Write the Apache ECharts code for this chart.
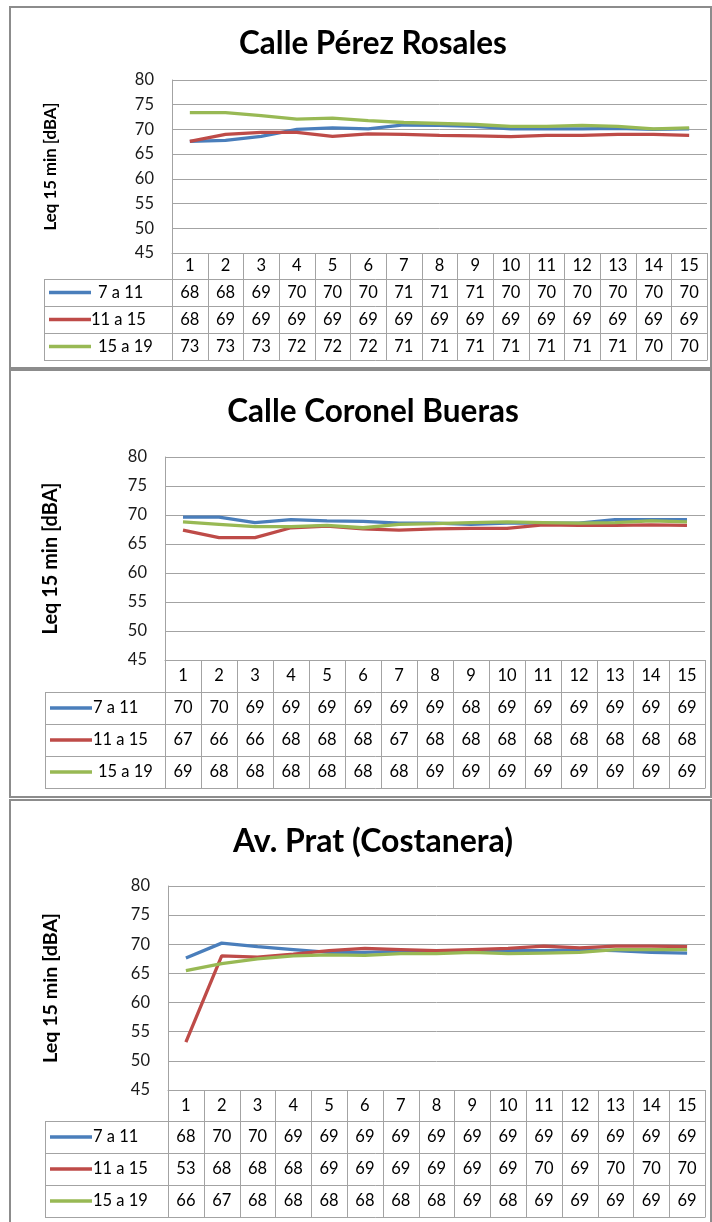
<!DOCTYPE html>
<html><head><meta charset="utf-8">
<script src="https://cdn.jsdelivr.net/npm/echarts@6/dist/echarts.min.js"></script>
<style>html,body{margin:0;padding:0;background:#fff}#c{width:712px;height:1222px}</style>
</head><body><div id="c"></div>
<script>
// ---------- DATA ----------
const categories = ['1','2','3','4','5','6','7','8','9','10','11','12','13','14','15'];
const seriesNames = ['7 a 11','11 a 15','15 a 19'];
const chartTitles = ['Calle Pérez Rosales','Calle Coronel Bueras','Av. Prat (Costanera)'];
const yAxisTitle = 'Leq 15 min [dBA]';
const yMin = 45, yMax = 80, yStep = 5;

const perez_7a11  = [67.6,67.8,68.6,70.0,70.3,70.1,70.9,70.8,70.6,70.1,70.1,70.1,70.2,70.0,70.1];
const perez_11a15 = [67.6,69.0,69.4,69.4,68.6,69.1,69.0,68.8,68.7,68.55,68.8,68.8,69.0,69.0,68.8];
const perez_15a19 = [73.4,73.4,72.8,72.1,72.3,71.8,71.4,71.2,71.0,70.6,70.6,70.8,70.6,70.1,70.3];

const bueras_7a11  = [69.65,69.65,68.7,69.2,69.0,68.9,68.6,68.6,68.4,68.6,68.6,68.6,69.2,69.2,69.2];
const bueras_11a15 = [67.4,66.1,66.1,67.8,68.1,67.6,67.4,67.6,67.7,67.7,68.3,68.2,68.2,68.3,68.2];
const bueras_15a19 = [68.8,68.4,68.0,68.0,68.2,67.8,68.4,68.5,68.7,68.8,68.7,68.6,68.7,69.0,68.8];

const prat_7a11  = [67.65,70.2,69.6,69.1,68.6,68.6,68.8,68.8,68.8,68.9,68.9,69.1,68.9,68.6,68.5];
const prat_11a15 = [53.2,68.0,67.8,68.3,68.9,69.3,69.1,68.9,69.1,69.3,69.7,69.4,69.7,69.7,69.6];
const prat_15a19 = [65.5,66.7,67.5,68.0,68.2,68.1,68.4,68.4,68.6,68.4,68.5,68.6,69.1,69.1,69.1];

const panelData = [
  [perez_7a11, perez_11a15, perez_15a19],
  [bueras_7a11, bueras_11a15, bueras_15a19],
  [prat_7a11, prat_11a15, prat_15a19]
];

// ---------- LAYOUT / STYLE ----------
const colors = ['#4A7EBB','#BE4B48','#98B954'];
const FAMILY = 'Lato';
const FONT = 'Lato, "Open Sans", sans-serif';
const gridColor = '#a3a3a3';
const layout = [
  {frame:[10,7,701,361],  titleCY:42,  titleW:282, yTitleLen:128, grid:{left:172, top:80,  right:707, bottom:253},  legendLeft:44, rows:[253,279,306,333,360],    textX:[54,47,54]},
  {frame:[10,370,701,427],titleCY:410, titleW:307, yTitleLen:152, grid:{left:165, top:457, right:705, bottom:660},  legendLeft:45, rows:[660,692,724,756,788],    textX:[48,48,53]},
  {frame:[10,800,701,440],titleCY:840, titleW:295, yTitleLen:150, grid:{left:168, top:886, right:705, bottom:1090}, legendLeft:45, rows:[1090,1121,1153,1185,1217], textX:[48,48,48]}
];
const TXT = 16.5;

// font size that makes a text span a given width
const mctx = document.createElement('canvas').getContext('2d');
function fitSize(text, weight, target){
  mctx.font = weight + ' 100px ' + FAMILY;
  return 100 * target / mctx.measureText(text).width;
}

const chart = echarts.init(document.getElementById('c'), null, {renderer:'canvas'});

const option = {
  backgroundColor:'#fff',
  animation:false,
  title: layout.map((L,i)=>{
    const fs = fitSize(chartTitles[i], 'bold', L.titleW) * 0.95;
    return {
      text: chartTitles[i], left: 368, top: L.titleCY - fs*0.6, textAlign:'center',
      textStyle:{fontFamily:FONT, fontWeight:'bold', fontSize:fs, color:'#000'}
    };
  }),
  grid: layout.map(L=>({left:L.grid.left, top:L.grid.top, width:L.grid.right-L.grid.left, height:L.grid.bottom-L.grid.top, containLabel:false})),
  xAxis: layout.map((L,i)=>({
    type:'category', gridIndex:i, data:categories, boundaryGap:true,
    axisLine:{show:true, lineStyle:{color:gridColor, width:1}},
    axisTick:{show:false},
    axisLabel:{show:true, margin:(L.rows[1]-L.rows[0])/2, verticalAlign:'middle', fontFamily:FONT, fontSize:TXT, color:'#000', interval:0}
  })),
  yAxis: layout.map((L,i)=>({
    type:'value', gridIndex:i, min:yMin, max:yMax, interval:yStep,
    name: yAxisTitle, nameLocation:'middle', nameRotate:90, nameGap: L.grid.left-51,
    nameTextStyle:{fontFamily:FONT, fontWeight:'bold', fontSize:fitSize(yAxisTitle,'bold',L.yTitleLen), color:'#000', verticalAlign:'middle'},
    axisLine:{show:true, lineStyle:{color:gridColor, width:1}},
    axisTick:{show:false},
    splitLine:{show:true, lineStyle:{color:gridColor, width:1}},
    axisLabel:{margin:18, fontFamily:FONT, fontSize:TXT, color:'#1a1a1a'}
  })),
  series: []
};
panelData.forEach((arr,pi)=>{
  arr.forEach((vals,si)=>{
    option.series.push({
      type:'line', name:seriesNames[si], xAxisIndex:pi, yAxisIndex:pi, data:vals,
      symbol:'none', smooth:false, z:3+si,
      lineStyle:{color:colors[si], width:3.3}, itemStyle:{color:colors[si]}
    });
  });
});
chart.setOption(option);

// ---------- TABLE + FRAMES (positions from the axes) ----------
const elements = [];
const lineEl = (x1,y1,x2,y2,color,w)=>({type:'line', silent:true, shape:{x1,y1,x2,y2}, style:{stroke:color, lineWidth:w}, z:1});
layout.forEach((L,pi)=>{
  const [fx,fy,fw,fh] = L.frame;
  elements.push({type:'rect', silent:true, shape:{x:fx,y:fy,width:fw,height:fh}, style:{fill:null, stroke:'#8c8c8c', lineWidth:2}, z:0});
  const xs = categories.map((c,i)=>chart.convertToPixel({xAxisIndex:pi}, i));
  const half = (xs[1]-xs[0])/2;
  const bounds = [xs[0]-half].concat(xs.map(x=>x+half));
  const R = L.rows;
  bounds.forEach(b=>elements.push(lineEl(Math.round(b)+0.5,R[0],Math.round(b)+0.5,R[4],gridColor,1)));
  elements.push(lineEl(L.legendLeft+0.5,R[1],L.legendLeft+0.5,R[4],gridColor,1));
  for(let r=1;r<=4;r++) elements.push(lineEl(L.legendLeft,R[r]+0.5,Math.round(bounds[15])+0.5,R[r]+0.5,gridColor,1));
  panelData[pi].forEach((vals,si)=>{
    const cy = (R[si+1]+R[si+2])/2;
    elements.push({type:'line', silent:true, shape:{x1:L.legendLeft+5,y1:cy,x2:L.legendLeft+47,y2:cy}, style:{stroke:colors[si], lineWidth:3.3}, z:2});
    elements.push({type:'text', silent:true, x:L.legendLeft+L.textX[si], y:cy, style:{text:seriesNames[si], fontFamily:FONT, fontSize:TXT, fill:'#000', textAlign:'left', textVerticalAlign:'middle'}, z:2});
    vals.forEach((v,i)=>{
      elements.push({type:'text', silent:true, x:xs[i], y:cy, style:{text:String(Math.round(v)), fontFamily:FONT, fontSize:TXT, fill:'#000', textAlign:'center', textVerticalAlign:'middle'}, z:2});
    });
  });
});
chart.setOption({graphic:{elements}});
</script>
</body></html>
